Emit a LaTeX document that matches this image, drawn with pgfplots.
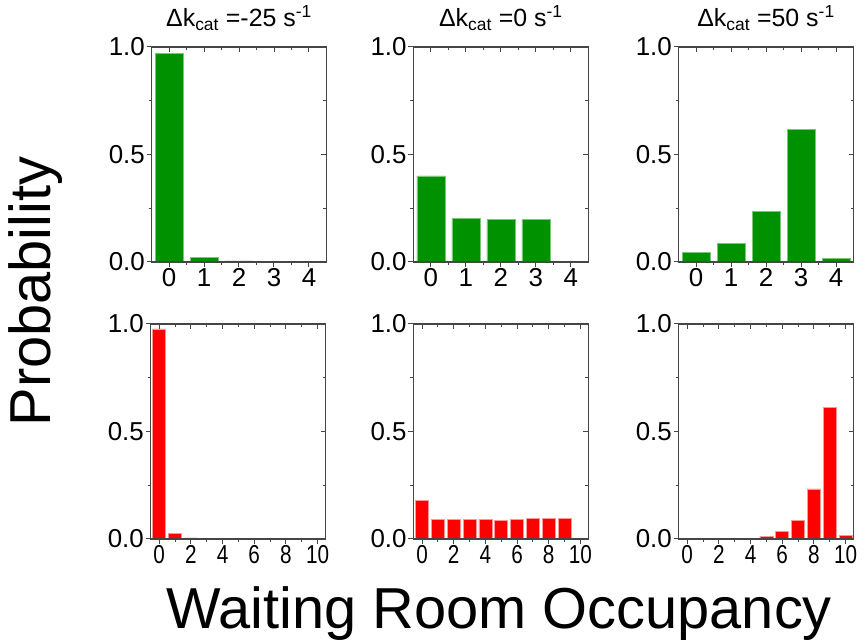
\documentclass[border=0pt]{standalone}
\usepackage{fontspec}
\setmainfont{Liberation Sans}
\usepackage{pgfplots}
\pgfplotsset{compat=1.18}
\definecolor{barg}{RGB}{0,145,0}
\definecolor{bargE}{RGB}{120,200,120}
\definecolor{barr}{RGB}{255,0,0}
\definecolor{barrE}{RGB}{255,150,150}
\definecolor{axc}{RGB}{70,70,70}
\pgfplotsset{
  base/.style={scale only axis, width=175bp, height=215bp, ymin=0, ymax=1,
    ytick={0,0.5,1}, minor ytick={0.25,0.75},
    axis line style={axc, line width=1.1bp},
    major tick length=5bp, minor tick length=3bp,
    every tick/.style={axc, line width=1bp},
    anchor=south west,
    /pgf/number format/assume math mode=true,
    tick label style={font=\fontsize{26}{26}\selectfont, inner sep=1.5bp},
    yticklabel style={/pgf/number format/fixed, /pgf/number format/fixed zerofill, /pgf/number format/precision=1}},
  toprow/.style={base, xmin=-0.5, xmax=4.5, xtick={0,...,4}, minor xtick={0.5,1.5,2.5,3.5}},
  botrow/.style={base, xmin=-0.55, xmax=10.5, xtick={0,2,...,10}, minor xtick={1,3,...,9},
    xticklabel={\scalebox{0.8}[1]{\pgfmathprintnumber{\tick}}}},
  main/.style={tick align=outside, xtick pos=left, ytick pos=left},
  over/.style={tick align=inside, xtick pos=right, ytick pos=right,
    xticklabels={}, yticklabels={}},
  gbar/.style={ybar, bar width=0.8, fill=barg, draw=bargE, line width=0.6bp},
  rbar/.style={ybar, bar width=0.82, fill=barr, draw=barrE, line width=0.6bp},
}
\begin{document}
\begin{tikzpicture}
\useasboundingbox (0bp,0bp) rectangle (865bp,644bp);
% ---- top row ----
\begin{axis}[toprow, main, at={(151.5bp,382bp)}]
\addplot[gbar] coordinates {(0,0.972) (1,0.023) (2,0.005)};
\end{axis}
\begin{axis}[toprow, over, at={(151.5bp,382bp)}]\end{axis}
\begin{axis}[toprow, main, at={(413.3bp,382bp)}]
\addplot[gbar] coordinates {(0,0.40) (1,0.201) (2,0.197) (3,0.197) (4,0.004)};
\end{axis}
\begin{axis}[toprow, over, at={(413.3bp,382bp)}]\end{axis}
\begin{axis}[toprow, main, at={(678.5bp,382bp)}]
\addplot[gbar] coordinates {(0,0.046) (1,0.087) (2,0.234) (3,0.617) (4,0.017)};
\end{axis}
\begin{axis}[toprow, over, at={(678.5bp,382bp)}]\end{axis}
% ---- bottom row ----
\begin{axis}[botrow, main, at={(150.5bp,105bp)}]
\addplot[rbar] coordinates {(0,0.977) (1,0.026) (2,0.005)};
\end{axis}
\begin{axis}[botrow, over, at={(150.5bp,105bp)}]\end{axis}
\begin{axis}[botrow, main, at={(413.3bp,105bp)}]
\addplot[rbar] coordinates {(0,0.18) (1,0.091) (2,0.091) (3,0.091) (4,0.091) (5,0.087) (6,0.091) (7,0.097) (8,0.097) (9,0.097)};
\end{axis}
\begin{axis}[botrow, over, at={(413.3bp,105bp)}]\end{axis}
\begin{axis}[botrow, main, at={(678.5bp,105bp)}]
\addplot[rbar] coordinates {(4,0.004) (5,0.013) (6,0.035) (7,0.087) (8,0.233) (9,0.611) (10,0.016)};
\end{axis}
\begin{axis}[botrow, over, at={(678.5bp,105bp)}]\end{axis}
% ---- titles and labels ----
\node[anchor=base, font=\fontsize{25}{25}\selectfont] at (239bp,617bp) {Δk\textsubscript{cat} =-25 s\textsuperscript{-1}};
\node[anchor=base, font=\fontsize{25}{25}\selectfont] at (500.8bp,617bp) {Δk\textsubscript{cat} =0 s\textsuperscript{-1}};
\node[anchor=base, font=\fontsize{25}{25}\selectfont] at (766bp,617bp) {Δk\textsubscript{cat} =50 s\textsuperscript{-1}};
\node[anchor=base, rotate=90, font=\fontsize{58}{58}\selectfont] at (50bp,352.5bp) {Probability};
\node[anchor=base, font=\fontsize{58}{58}\selectfont] at (499bp,16bp) {Waiting Room Occupancy};
\end{tikzpicture}
\end{document}
